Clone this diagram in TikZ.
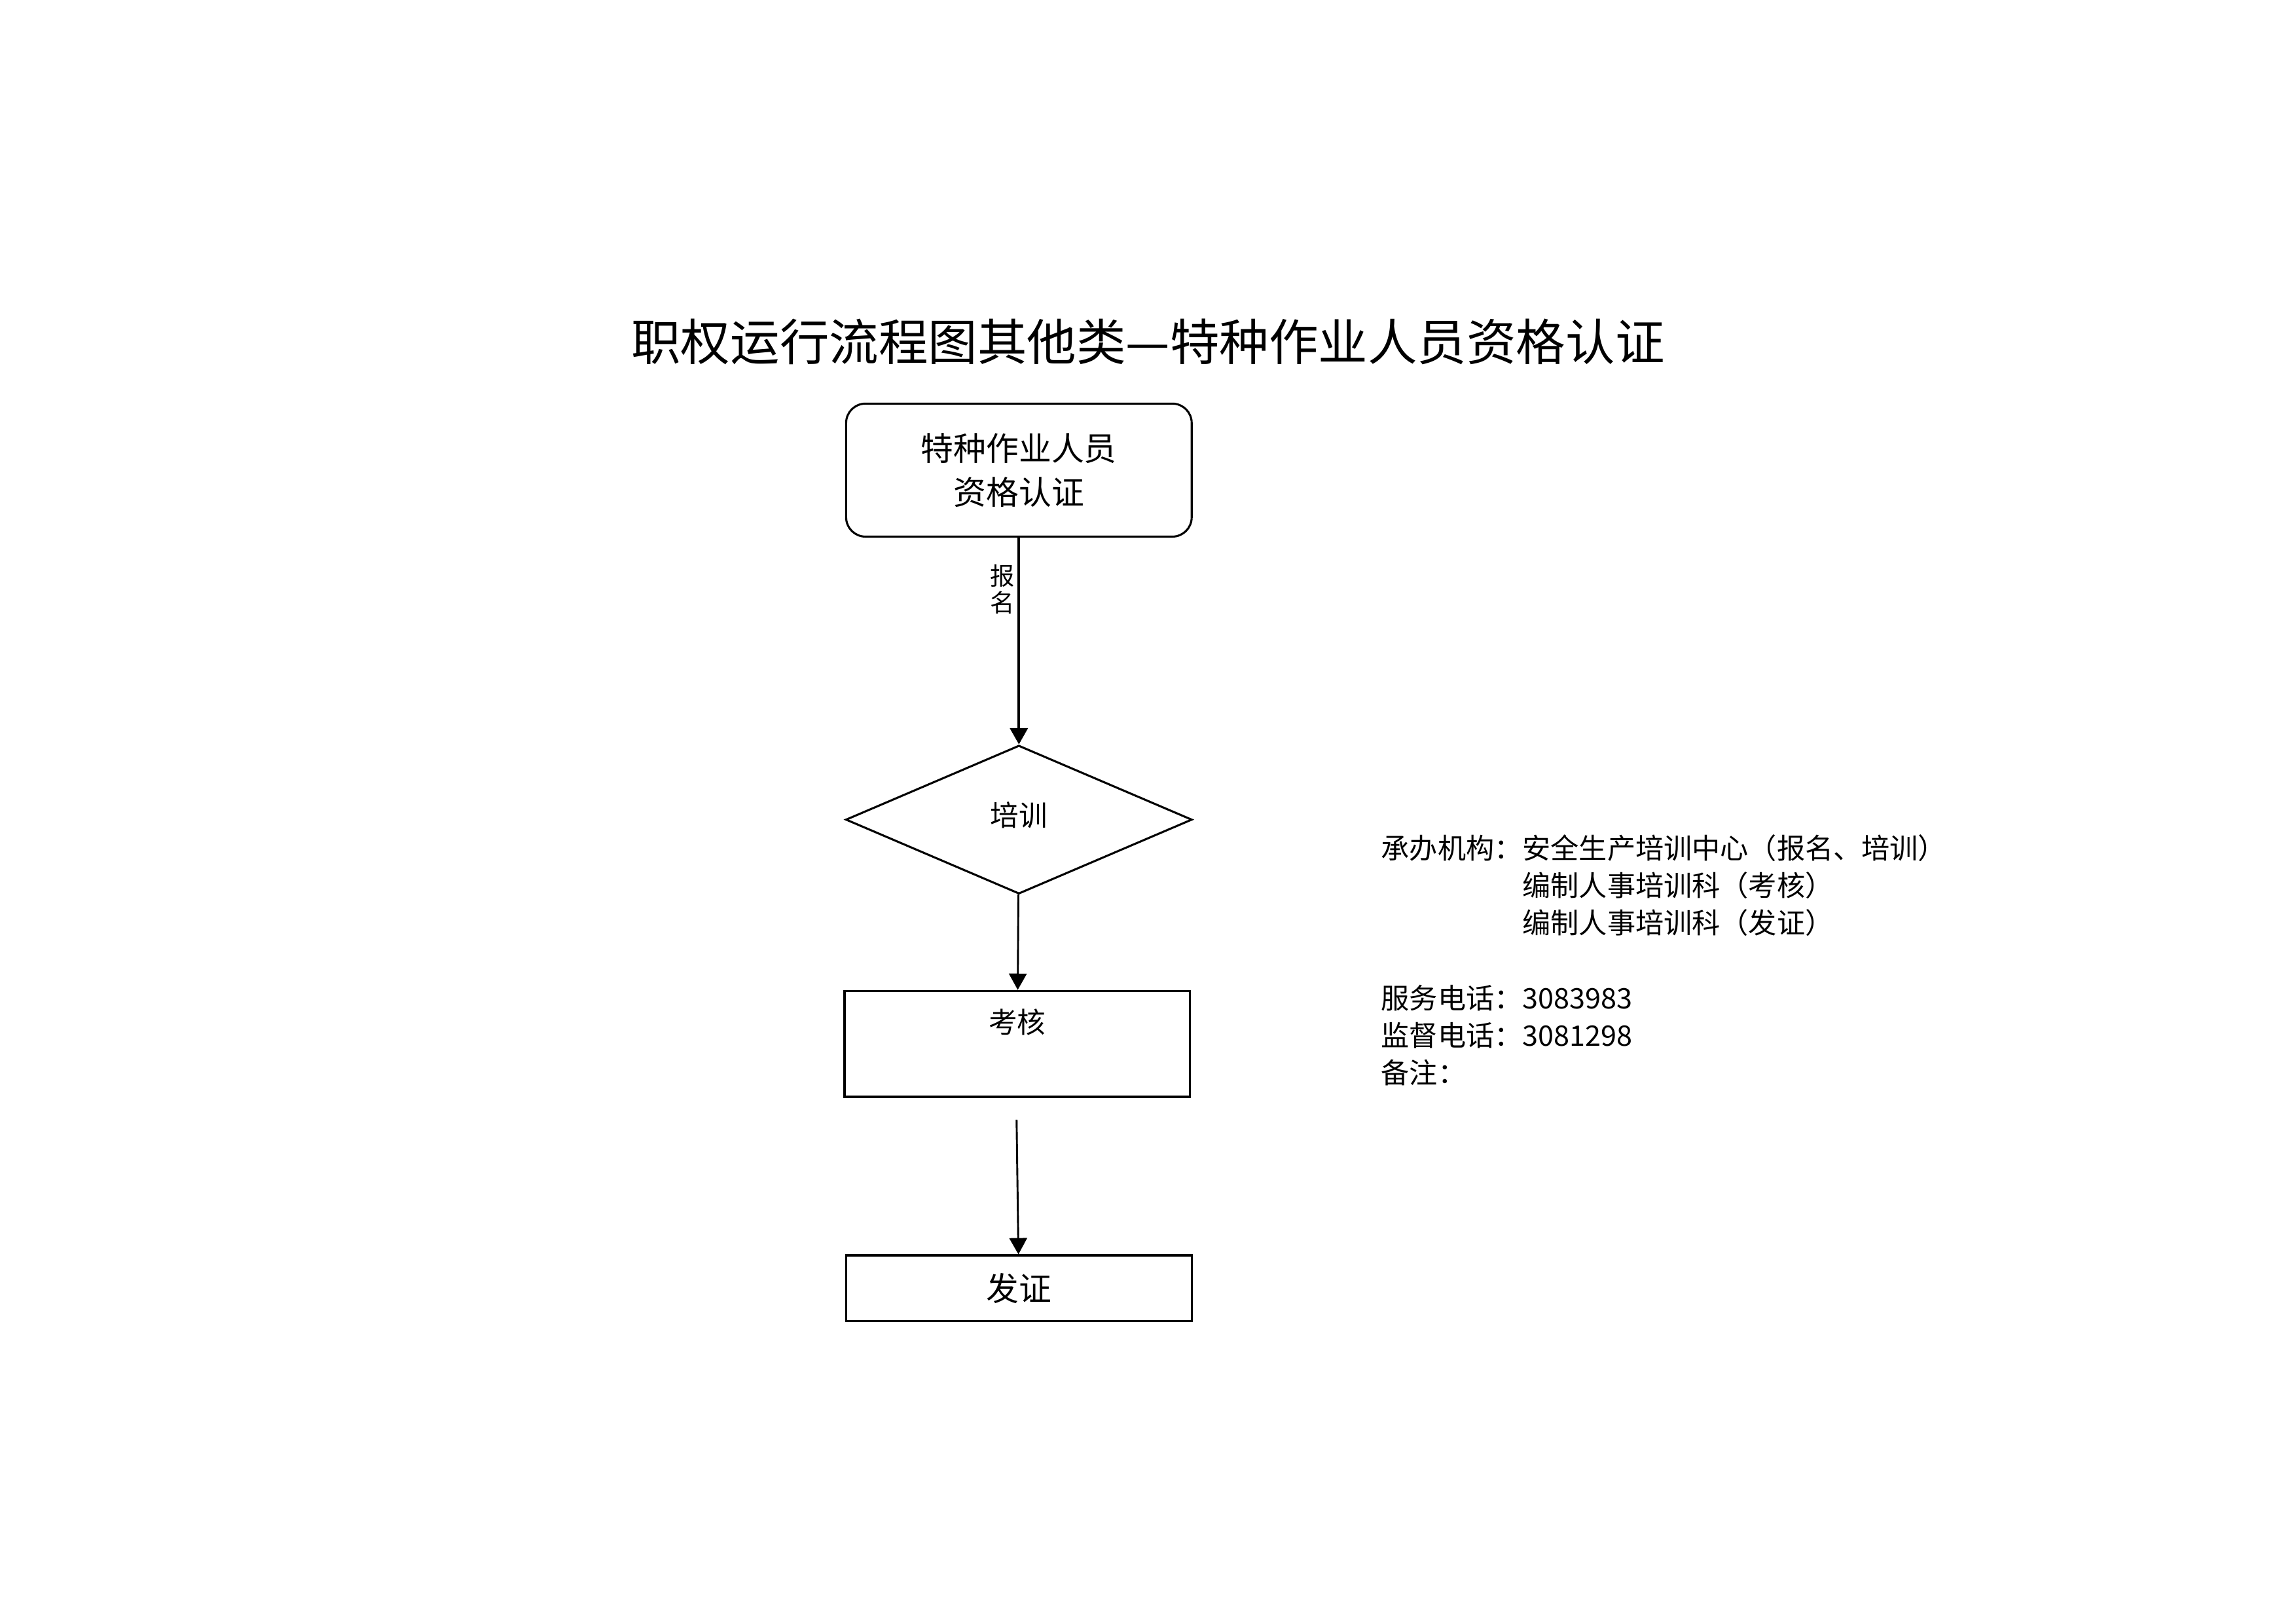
\documentclass[tikz,border=0pt]{standalone}
\usepackage{fontspec}
\setmainfont{Noto Sans CJK SC}
\usepackage{tikz}
\usetikzlibrary{arrows.meta}
\usetikzlibrary{shapes.geometric}

\begin{document}
\begin{tikzpicture}[
    box/.style={draw, line width=0.75pt, minimum width=4.47cm, inner sep=0pt},
    flow/.style={line width=0.7pt, -{Triangle[length=6pt,width=6.5pt]}}
]
    \useasboundingbox (0,0) rectangle (29.7,21);
    \coordinate (start) at (13.18,14.92);
    \coordinate (train) at (13.18,10.40);
    \coordinate (exam) at (13.16,7.50);
    \coordinate (issue) at (13.18,4.34);
    \coordinate (gap) at (13.15,6.52);
    % Draw the title
    \node[font=\fontsize{18.2}{18}\selectfont] (title) at (14.85,16.58) {职权运行流程图其他类—特种作业人员资格认证};
    % Draw the flow boxes
    \node[box, rounded corners=0.25cm, minimum height=1.72cm, align=center, font=\fontsize{12}{16}\selectfont] (apply) at (start) {特种作业人员\\资格认证};
    \node[box, diamond, minimum width=4.48cm, minimum height=1.92cm, font=\fontsize{10.5}{12}\selectfont] (training) at (train) {\raisebox{0.14cm}{培训}};
    \node[box, minimum height=1.37cm, label={[anchor=north, yshift=-0.12cm, font=\fontsize{10.5}{12}\selectfont]north:考核}] (check) at (exam) {};
    \node[box, minimum height=0.85cm, font=\fontsize{12}{14}\selectfont] (certificate) at (issue) {发证};
    % Draw the arrows
    \draw[flow, line width=1pt] (apply) -- (training) node[pos=0.25, left, inner sep=1pt, align=center, font=\fontsize{9}{10}\selectfont] {报\\名};
    \draw[flow] (training) -- (check);
    \draw[flow] (gap) -- (certificate);
    % Draw the office notes
    \node[anchor=base west, inner sep=0pt, font=\fontsize{10.4}{13.8}\selectfont] (info) at (17.86,9.895) {%
        \begin{tabular}[t]{@{}l@{}l@{}}
            承办机构：& 安全生产培训中心（报名、培训）\\
            & 编制人事培训科（考核）\\
            & 编制人事培训科（发证）\\
            & \\
            服务电话：& 3083983\\
            监督电话：& 3081298\\
            备注：&
        \end{tabular}};
\end{tikzpicture}
\end{document}
